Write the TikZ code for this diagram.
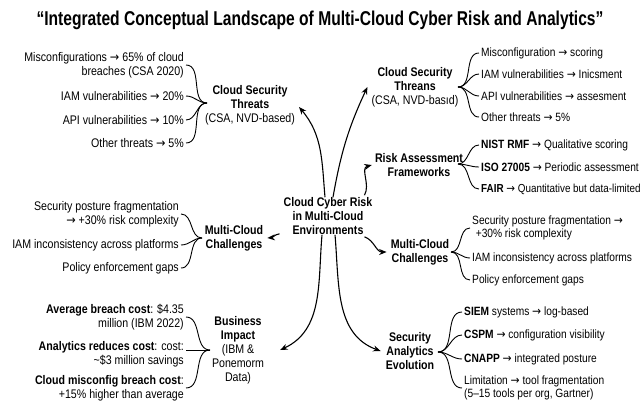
\documentclass[tikz,border=0pt]{standalone}
\usepackage{fontspec}
\setmainfont{Liberation Sans}[FakeStretch=0.85]
\newfontfamily\titlefont{Liberation Sans}[FakeStretch=0.78]
\newfontfamily\arrowfont{DejaVu Sans}[FakeStretch=0.9]
\newcommand\arr{{\arrowfont →}}
\usetikzlibrary{arrows.meta}

\tikzset{
  lbl/.style={inner ysep=0pt, inner xsep=2pt, font=\fontsize{12.5}{14}\selectfont},
  rlbl/.style={inner ysep=0pt, inner xsep=2pt, font=\fontsize{12}{13.5}\selectfont},
  hub/.style={lbl, align=center},
  bhub/.style={lbl, align=center, font=\fontsize{12.5}{14}\selectfont\bfseries},
  leftitem/.style={lbl, anchor=east, align=right},
  rightitem/.style={rlbl, anchor=west, align=left},
  brace/.style={line width=0.9pt, out=0, in=180},
  rbrace/.style={line width=0.9pt, out=180, in=0},
  link/.style={line width=1.1pt, -{Stealth[length=7.5pt,width=6pt]}},
}

\begin{document}
\begin{tikzpicture}[x=1pt, y=-1pt]
\useasboundingbox (0,0) rectangle (640,405);

% title
\node[inner sep=0pt, font=\titlefont\fontsize{20}{24}\selectfont\bfseries] (title) at (320,20)
  {“Integrated Conceptual Landscape of Multi-Cloud Cyber Risk and Analytics”};

% central concept
\node[bhub] (core) at (328,216) {Cloud Cyber Risk\\in Multi-Cloud\\Environments};

% first-level topics
\node[hub] (lthreat) at (250,105) {\textbf{Cloud Security}\\\textbf{Threats}\\(CSA, NVD-based)};
\node[hub] (rthreat) at (415,87) {\textbf{Cloud Security}\\\textbf{Threans}\\(CSA, NVD-basıd)};
\node[bhub] (risk) at (419,165) {Risk Assessment\\Frameworks};
\node[bhub] (lmulti) at (234,238) {Multi-Cloud\\Challenges};
\node[bhub] (rmulti) at (420,252) {Multi-Cloud\\Challenges};
\node[hub] (business) at (238,350) {\textbf{Business}\\\textbf{Impact}\\(IBM \&\\Ponemorm\\Data)};
\node[bhub] (secan) at (410,351) {Security\\Analytics\\Evolution};

% links from the central concept
\draw[link] ([xshift=-3pt]core.north) to[out=95,in=-50] ([xshift=2pt,yshift=-2pt]lthreat.east);
\draw[link] ([xshift=5pt]core.north) to[out=80,in=-115] ([xshift=-2pt]rthreat.west);
\draw[link] ([xshift=-10pt,yshift=2pt]core.north east) to[out=60,in=195] ([xshift=-1pt]risk.west);
\draw[link] ([xshift=-2pt,yshift=1pt]core.south west) to[out=190,in=5] ([xshift=2pt]lmulti.east);
\draw[link] ([xshift=-10pt,yshift=-2pt]core.south east) to[out=-20,in=180] ([xshift=-2pt]rmulti.west);
\draw[link] ([xshift=-6pt]core.south) to[out=-95,in=25] ([xshift=14pt]business.east);
\draw[link] ([xshift=7pt]core.south) to[out=-85,in=160] ([xshift=-3pt]secan.west);

% left: threats breakdown
\node[leftitem] (lt1) at (186,65) {Misconfigurations \arr{} 65\% of cloud\\breaches (CSA 2020)};
\node[leftitem] (lt2) at (186,96) {IAM vulnerabilities \arr{} 20\%};
\node[leftitem] (lt3) at (186,120) {API vulnerabilities \arr{} 10\%};
\node[leftitem] (lt4) at (186,143) {Other threats \arr{} 5\%};
\coordinate (ltip) at (207,103);
\foreach \i in {lt1,lt2,lt3,lt4} \draw[brace] (\i.east) to (ltip);

% right: threats breakdown
\node[rightitem] (rt1) at (479,53) {Misconfiguration \arr{} scoring};
\node[rightitem] (rt2) at (479,74) {IAM vulnerabilities \arr{} Inicsment};
\node[rightitem] (rt3) at (479,96) {API vulnerabilities \arr{} assesment};
\node[rightitem] (rt4) at (479,117) {Other threats \arr{} 5\%};
\coordinate (rttip) at (458,87);
\foreach \i in {rt1,rt2,rt3,rt4} \draw[rbrace] (\i.west) to (rttip);

% right: risk frameworks
\node[rightitem] (rr1) at (479,145) {\textbf{NIST RMF} \arr{} Qualitative scoring};
\node[rightitem] (rr2) at (479,167) {\textbf{ISO 27005} \arr{} Periodic assessment};
\node[rightitem, font=\fontsize{11.6}{13.5}\selectfont] (rr3) at (479,189) {\textbf{FAIR} \arr{} Quantitative but data-limited};
\coordinate (rrtip) at (458,164);
\foreach \i in {rr1,rr2,rr3} \draw[rbrace] (\i.west) to (rrtip);

% right: multi-cloud challenges
\node[rightitem] (rm1) at (470,228) {Security posture fragmentation \arr\\\hspace*{0.3em}+30\% risk complexity};
\node[rightitem] (rm2) at (470,258) {IAM inconsistency across platforms};
\node[rightitem] (rm3) at (470,280) {Policy enforcement gaps};
\coordinate (rmtip) at (451,252);
\foreach \i in {rm1,rm2,rm3} \draw[rbrace] (\i.west) to (rmtip);

% right: security analytics evolution
\node[rightitem] (sa1) at (462,312) {\textbf{SIEM} systems \arr{} log-based};
\node[rightitem] (sa2) at (462,335) {\textbf{CSPM} \arr{} configuration visibility};
\node[rightitem] (sa3) at (462,359) {\textbf{CNAPP} \arr{} integrated posture};
\node[rightitem] (sa4) at (462,388) {Limitation \arr{} tool fragmentation\\(5–15 tools per org, Gartner)};
\coordinate (satip) at (438,352);
\foreach \i in {sa1,sa2,sa3,sa4} \draw[rbrace] (\i.west) to (satip);

% left: multi-cloud challenges
\node[leftitem] (lm1) at (181,214) {Security posture fragmentation\\\arr{} +30\% risk complexity};
\node[leftitem] (lm2) at (181,245) {IAM inconsistency across platforms};
\node[leftitem] (lm3) at (181,268) {Policy enforcement gaps};
\coordinate (lmtip) at (202,238);
\foreach \i in {lm1,lm2,lm3} \draw[brace] (\i.east) to (lmtip);

% left: business impact
\node[leftitem] (bi1) at (186,317) {\textbf{Average breach cost}: \$4.35\\million (IBM 2022)};
\node[leftitem] (bi2) at (186,354) {\textbf{Analytics reduces cost}: cost:\\\textasciitilde\$3 million savings};
\node[leftitem] (bi3) at (186,388) {\textbf{Cloud misconfig breach cost}:\\+15\% higher than average};
\coordinate (bitip) at (210,350);
\draw[brace] (bi1.east) to (bitip);
\draw[line width=0.9pt] (bi2.east |- bitip) -- (bitip);
\draw[brace] (bi3.east) to (bitip);
\end{tikzpicture}
\end{document}
